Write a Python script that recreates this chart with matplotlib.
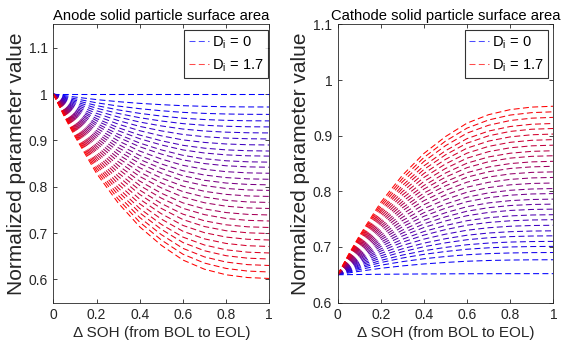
import matplotlib
matplotlib.use("Agg")
import matplotlib.pyplot as plt
import numpy as np

# shared curve shape: fraction of the total change reached at each delta SOH
soh = [0.0, 0.025, 0.05, 0.1, 0.15, 0.2, 0.25, 0.3, 0.4, 0.5, 0.6, 0.7, 0.8, 0.9, 1.0]
shape = [0.0, 0.06, 0.12, 0.23, 0.33, 0.43, 0.51, 0.59, 0.72, 0.82, 0.90, 0.95, 0.98, 0.995, 1.0]

# end-of-life values per curve, D_i = 0 ... 1.7
anode_start = 1.0
anode_end = [1.0, 0.972, 0.956, 0.942, 0.929, 0.916, 0.903, 0.890, 0.877, 0.866,
             0.853, 0.842, 0.829, 0.816, 0.804, 0.792, 0.779, 0.766, 0.753, 0.739,
             0.726, 0.712, 0.699, 0.685, 0.671, 0.657, 0.644, 0.630, 0.616, 0.602]
cathode_start = 0.65
cathode_end = [0.652, 0.677, 0.690, 0.701, 0.710, 0.720, 0.729, 0.739, 0.749, 0.758,
               0.768, 0.777, 0.786, 0.796, 0.805, 0.815, 0.825, 0.835, 0.845, 0.854,
               0.864, 0.873, 0.883, 0.893, 0.903, 0.913, 0.922, 0.933, 0.943, 0.953]

titles = ["Anode solid particle surface area", "Cathode solid particle surface area"]
ylims = [(0.55, 1.15), (0.6, 1.1)]
yticks = [[0.6, 0.7, 0.8, 0.9, 1.0, 1.1], [0.6, 0.7, 0.8, 0.9, 1.0, 1.1]]
ytick_labels = [["0.6", "0.7", "0.8", "0.9", "1", "1.1"],
                ["0.6", "0.7", "0.8", "0.9", "1", "1.1"]]
xticks = [0, 0.2, 0.4, 0.6, 0.8, 1.0]
xtick_labels = ["0", "0.2", "0.4", "0.6", "0.8", "1"]
d_labels = ["D$_\\mathrm{i}$ = 0", "D$_\\mathrm{i}$ = 1.7"]

AX_COL = (0.15, 0.15, 0.15)


def main():
    plt.rcParams["font.family"] = ["Liberation Sans", "DejaVu Sans"]
    plt.rcParams["mathtext.fontset"] = "custom"
    plt.rcParams["mathtext.rm"] = "Liberation Sans"
    plt.rcParams["lines.scale_dashes"] = False

    fig = plt.figure(figsize=(5.63, 3.45), dpi=100)
    axes = [fig.add_axes([0.0947, 0.123, 0.3836, 0.806]),
            fig.add_axes([0.5998, 0.123, 0.3830, 0.806])]
    x = np.array(soh)
    frac = np.array(shape)

    for i, (ax, start, ends) in enumerate(zip(axes, [anode_start, cathode_start],
                                              [anode_end, cathode_end])):
        n = len(ends)
        for k, e in enumerate(ends):
            t = k / (n - 1)
            col = (t, 0.0, 1.0 - t)
            lab = d_labels[0] if k == 0 else (d_labels[1] if k == n - 1 else None)
            ax.plot(x, start + (e - start) * frac, color=col, lw=0.75,
                    dashes=(4.3, 2.4), label=lab)

        ax.set_xlim(0, 1)
        ax.set_ylim(*ylims[i])
        ax.set_xticks(xticks)
        ax.set_xticklabels(xtick_labels)
        ax.set_yticks(yticks[i])
        ax.set_yticklabels(ytick_labels[i])
        ax.tick_params(direction="in", top=True, right=True, length=3, width=0.6,
                       colors=AX_COL, labelsize=10, pad=4)
        for s in ax.spines.values():
            s.set_color(AX_COL)
            s.set_linewidth(0.6)
        ax.set_title(titles[i], fontsize=10.6, color="black", pad=3)
        ax.set_xlabel("\u0394 SOH (from BOL to EOL)", fontsize=11, color=AX_COL, labelpad=3)
        ax.set_ylabel("Normalized parameter value", fontsize=15, color=AX_COL, labelpad=2)

        leg = ax.legend(loc="upper right", bbox_to_anchor=(0.995 if i == 0 else 0.977, 0.982),
                        fontsize=10.5, frameon=True, fancybox=False, handlelength=1.4,
                        handletextpad=0.2, borderpad=0.3, labelspacing=0.45,
                        borderaxespad=0)
        leg.get_frame().set_edgecolor("black")
        leg.get_frame().set_linewidth(0.8)
        for h in leg.get_lines():
            h.set_alpha(0.7)

    fig.savefig("out.png", dpi=100)
    plt.close(fig)


if __name__ == "__main__":
    main()
